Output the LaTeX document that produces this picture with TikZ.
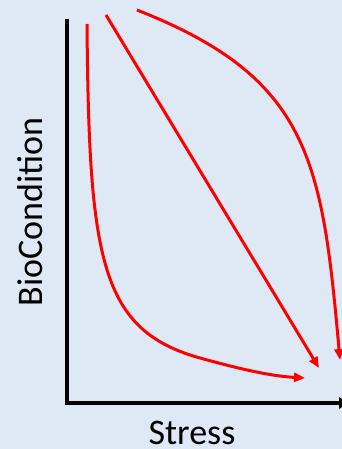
\documentclass[tikz,border=0pt]{standalone}
\usepackage{fontspec}
\setmainfont{Carlito}
\usetikzlibrary{arrows.meta}
\definecolor{bg}{HTML}{DEE9F5}
\begin{document}
\begin{tikzpicture}[x=1pt,y=-1pt,
  axis/.style={line width=4pt, draw=black, line join=miter},
  curve/.style={line width=3pt, draw=red, -{Triangle[length=11pt,width=9pt]}},
  lbl/.style={font=\fontsize{36}{40}\selectfont, inner sep=0pt}]
\fill[bg] (0,0) rectangle (342,449);
\useasboundingbox (0,0) rectangle (342,449);
\coordinate (top) at (67,19);
\coordinate (origin) at (67,403);
\coordinate (xend) at (348,403);
\draw[axis] (top) -- (origin) -- (xend);
\fill (339,397) -- (348,403) -- (339,409) -- cycle;
\node[lbl, anchor=base] (xl) at (192,444) {Stress};
\node[lbl, anchor=base, rotate=90] (yl) at (42,212) {BioCondition};
% straight line
\coordinate (s1) at (106,15);
\coordinate (s2) at (319,368);
\draw[curve] (s1) -- (s2);
% left convex curve
\coordinate (l1) at (87,24);
\coordinate (l2) at (200,358);
\coordinate (l3) at (305,378);
\draw[curve] (l1) .. controls (89,260) and (100,330) .. (l2)
  .. controls (240,369) and (270,376) .. (l3);
% right curve
\coordinate (r1) at (137,10);
\coordinate (r2) at (340,360);
\draw[curve] (r1) .. controls (310,78) and (322,160) .. (r2);
\end{tikzpicture}
\end{document}
